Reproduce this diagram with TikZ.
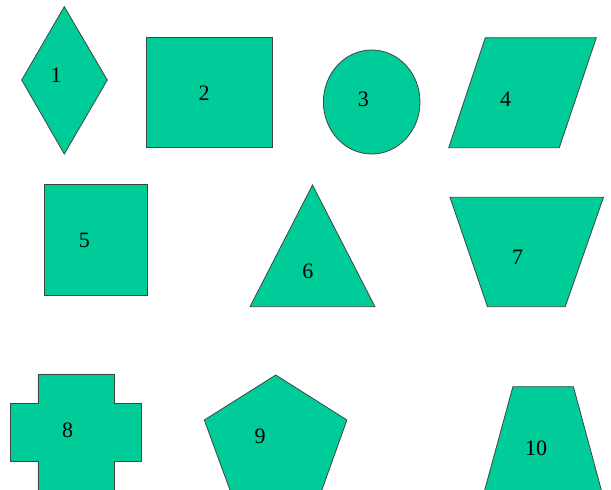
\documentclass[tikz,border=0pt]{standalone}
\usepackage{fontspec}
\setmainfont{Liberation Serif}
\definecolor{shapefill}{RGB}{0,204,153}
\definecolor{shapeline}{RGB}{60,70,65}
\begin{document}
\begin{tikzpicture}[x=1pt,y=-1pt,
  shp/.style={fill=shapefill,draw=shapeline,line width=0.8pt,line join=miter},
  lbl/.style={inner sep=0pt,font=\fontsize{22}{24}\selectfont}]
\useasboundingbox (0,0) rectangle (611,490);
\clip (0,0) rectangle (611,490);
% 1 diamond
\draw[shp] (64.3,6.7) -- (107.3,80) -- (64.3,154) -- (21.7,80) -- cycle;
\node[lbl] (l1) at (56,75) {1};
% 2 rectangle
\draw[shp] (146.7,37.7) rectangle (272.3,147.7);
\node[lbl] (l2) at (204,93) {2};
% 3 circle
\draw[shp] (371.7,102) ellipse [x radius=48.3, y radius=52];
\node[lbl] (l3) at (363.3,99.5) {3};
% 4 parallelogram
\draw[shp] (485.3,37.7) -- (596.3,37.7) -- (559.3,147.7) -- (448.7,147.7) -- cycle;
\node[lbl] (l4) at (505.7,99.5) {4};
% 5 rectangle
\draw[shp] (44.5,184.3) rectangle (147.3,295);
\node[lbl] (l5) at (84.4,240) {5};
% 6 triangle
\draw[shp] (312.5,185) -- (375,306.7) -- (250,306.7) -- cycle;
\node[lbl] (l6) at (307.8,271.7) {6};
% 7 trapezoid
\draw[shp] (450,197.3) -- (603.5,197.3) -- (565.2,306.7) -- (487.5,306.7) -- cycle;
\node[lbl] (l7) at (517.6,257.3) {7};
% 8 cross
\draw[shp] (37.9,374.3) -- (114,374.3) -- (114,403.3) -- (141.4,403.3) -- (141.4,461) -- (114,461) -- (114,500) -- (37.9,500) -- (37.9,461) -- (10.2,461) -- (10.2,403.3) -- (37.9,403.3) -- cycle;
\node[lbl] (l8) at (67.6,430.7) {8};
% 9 pentagon
\draw[shp] (275.8,375) -- (346.9,420) -- (316.5,505) -- (235.5,505) -- (204.3,420) -- cycle;
\node[lbl] (l9) at (260,436) {9};
% 10 trapezoid
\draw[shp] (512.9,386.7) -- (573.4,386.7) -- (604,500) -- (482,500) -- cycle;
\node[lbl] (l10) at (536,448.3) {10};
\end{tikzpicture}
\end{document}
